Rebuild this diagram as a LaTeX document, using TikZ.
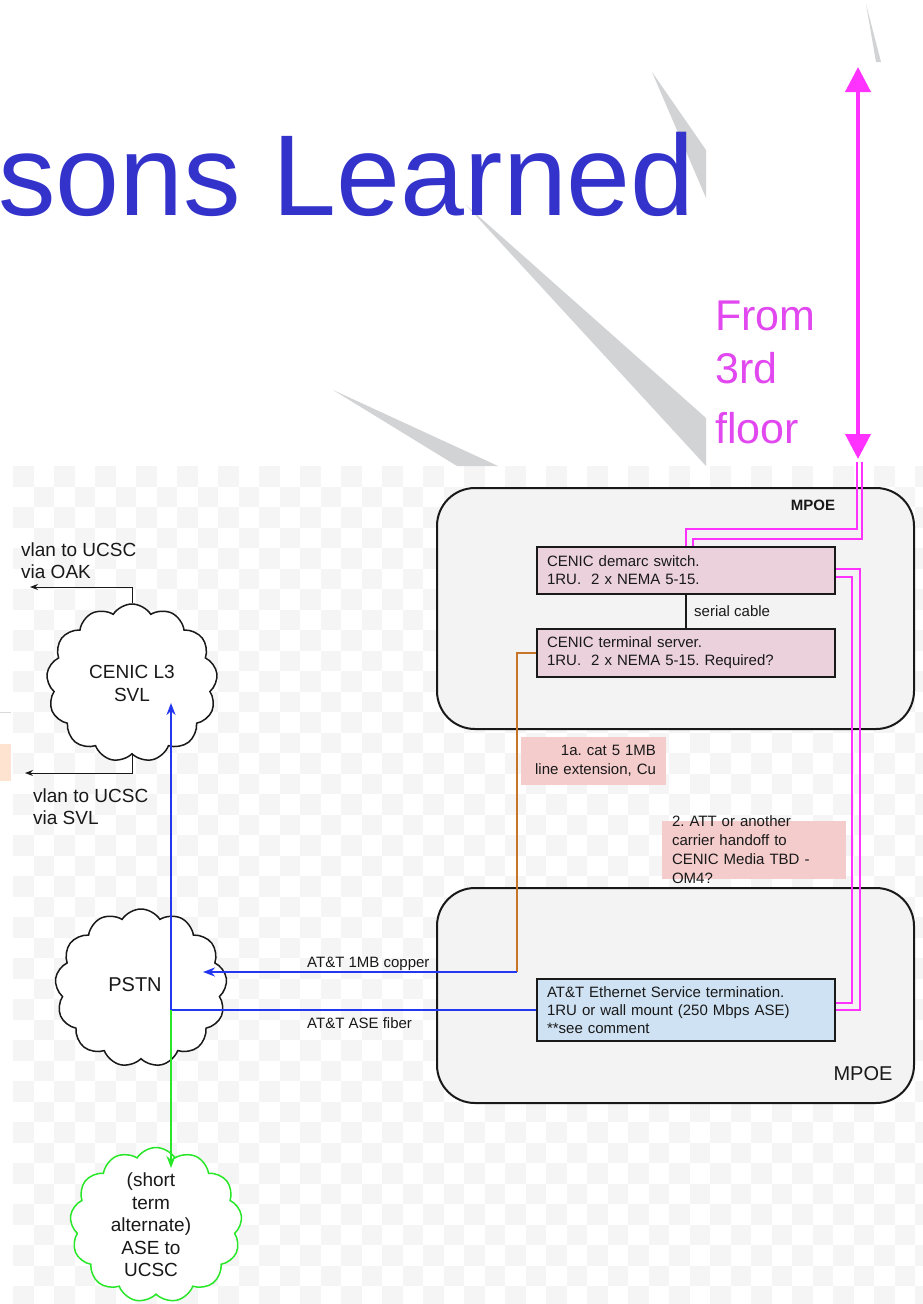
\documentclass[tikz,border=0pt]{standalone}
\usepackage{fontspec}
\setmainfont{Liberation Sans}
\usetikzlibrary{shapes.symbols,arrows.meta,calc}
\definecolor{titleblue}{RGB}{51,51,204}
\definecolor{mag}{RGB}{255,50,255}
\definecolor{magtext}{RGB}{226,72,240}
\definecolor{shard}{RGB}{210,211,213}
\definecolor{checker}{RGB}{245,245,245}
\definecolor{mpoefill}{RGB}{243,243,243}
\definecolor{pinkbox}{RGB}{234,209,220}
\definecolor{bluebox}{RGB}{207,226,243}
\definecolor{notefill}{RGB}{244,204,204}
\definecolor{wire}{RGB}{35,55,240}
\definecolor{copper}{RGB}{200,117,40}
\definecolor{grn}{RGB}{40,230,40}
\definecolor{peach}{RGB}{253,227,208}
\definecolor{ink}{RGB}{25,25,25}
\frenchspacing
\begin{document}
\frenchspacing
\begin{tikzpicture}[x=1pt,y=-1pt,
  every node/.style={inner sep=0pt, text=ink},
  boxsty/.style={draw=ink, line width=2pt, inner xsep=10pt, inner ysep=0pt,
    align=left, text width=278pt, font=\fontsize{15}{18}\selectfont},
  mpoesty/.style={draw=ink, line width=2pt, fill=mpoefill, rounded corners=38pt},
  notesty/.style={fill=notefill, font=\fontsize{15}{19}\selectfont},
  cloudsty/.style={cloud, cloud puffs=13, cloud puff arc=115, aspect=1.05,
    draw=ink, line width=1.5pt, fill=white},
  lbl/.style={font=\fontsize{15}{18}\selectfont},
  cloudtxt/.style={font=\fontsize{19}{23}\selectfont, align=center, text=ink},
  magline/.style={draw=mag, line width=2.2pt},
  bluewire/.style={draw=wire, line width=2.2pt},
  thinarrow/.style={draw=ink, line width=1pt, -{Stealth[length=8pt,width=6pt]}},
  wirearrow/.style={-{Stealth[length=12pt,width=9pt]}}
]
\useasboundingbox (0,0) rectangle (923,1304);
\fill[white] (0,0) rectangle (923,1304);
% checkered background
\begin{scope}
\clip (13,466) rectangle (923,1304);
\foreach \r in {0,...,20} {
  \foreach \c in {0,...,22} {
    \fill[checker] (13+41*\c,466+41*\r) rectangle ++(20.5,20.5);
    \fill[checker] (33.5+41*\c,486.5+41*\r) rectangle ++(20.5,20.5);
  }
}
\end{scope}
% side remnants
\fill[peach] (0,744) rectangle (11,781);
\draw[black!15, line width=0.8pt] (0,712) -- (11,712);
% decorative shards
\fill[shard] (866,4) -- (876,62) -- (881,62) -- cycle;
\fill[shard] (652,72) -- (706,150) -- (706,198) -- cycle;
\fill[shard] (466,205) -- (706,418) -- (706,466) -- cycle;
\fill[shard] (333,390) -- (498,466) -- (457,466) -- cycle;
% title
\node[anchor=base west, font=\fontsize{115}{115}\selectfont, text=titleblue] (title) at (-2,215) {sons Learned};
% from 3rd floor
\coordinate (ftop) at (858,67);
\coordinate (fbot) at (858,459);
\draw[mag, line width=4pt, {Triangle[width=25pt,length=25pt]}-{Triangle[width=25pt,length=25pt]}] (ftop) -- (fbot);
\node[anchor=base west, text=magtext, font=\fontsize{43}{43}\selectfont] (from1) at (715,330) {From};
\node[anchor=base west, text=magtext, font=\fontsize{43}{43}\selectfont] (from2) at (715,383) {3rd};
\node[anchor=base west, text=magtext, font=\fontsize{43}{43}\selectfont] (from3) at (715,443) {floor};
% MPOE containers
\node[mpoesty, minimum width=477pt, minimum height=241pt] (mpoeA) at (675.5,608.5) {};
\node[anchor=base, font=\bfseries\fontsize{15}{15}\selectfont] (mpoeAl) at (813,510.5) {MPOE};
\node[mpoesty, minimum width=477pt, minimum height=215pt] (mpoeB) at (675.5,995.5) {};
\node[anchor=base, font=\fontsize{20}{20}\selectfont] (mpoeBl) at (863,1080) {MPOE};
% devices
\node[boxsty, fill=pinkbox, minimum height=47pt] (demarc) at (686,570.5)
  {CENIC demarc switch.\\1RU.\ \ 2 x NEMA 5-15.};
\node[boxsty, fill=pinkbox, minimum height=48pt] (term) at (686,653)
  {CENIC terminal server.\\1RU.\ \ 2 x NEMA 5-15. Required?};
\node[boxsty, fill=bluebox, minimum height=62pt] (att) at (686,1010)
  {AT\&T Ethernet Service termination.\\1RU or wall mount (250 Mbps ASE)\\\relax **see comment};
% notes
\node[notesty, minimum width=145pt, minimum height=48pt, text width=125pt, align=right, inner xsep=10pt] (note1) at (593.5,761)
  {1a. cat 5 1MB\\line extension, Cu};
\node[notesty, minimum width=184pt, text width=164pt, align=left, inner xsep=10pt, inner ysep=-5pt] (note2) at (754,849.5)
  {2. ATT or another\\carrier handoff to\\CENIC Media TBD -\\OM4?};
% serial cable
\draw[draw=ink, line width=1.8pt] (demarc.south) -- (term.north);
\node[lbl, anchor=west] (serial) at (694,611) {serial cable};
% clouds
\node[cloudsty, minimum width=171pt, minimum height=158pt,
  label={[cloudtxt]center:CENIC L3\\SVL}] (cenic) at (132,683) {};
\node[cloudsty, minimum width=172pt, minimum height=158pt,
  label={[cloudtxt, font=\fontsize{20}{24}\selectfont, xshift=-6pt, yshift=3pt]center:PSTN}] (pstn) at (141,988) {};
\node[cloudsty, draw=grn, minimum width=172pt, minimum height=155pt,
  label={[cloudtxt, font=\fontsize{19}{22.5}\selectfont, xshift=-5pt]center:(short\\term\\alternate)\\ASE to\\UCSC}] (green) at (156,1225) {};
% vlan arrows
\coordinate (oak) at (30,587);
\coordinate (svl) at (25,773);
\draw[thinarrow] (cenic.north) |- (oak);
\draw[thinarrow] (cenic.south) |- (svl);
\node[anchor=base west, font=\fontsize{19}{19}\selectfont] (oakl1) at (21,556) {vlan to UCSC};
\node[anchor=base west, font=\fontsize{19}{19}\selectfont] (oakl2) at (21,578) {via OAK};
\node[anchor=base west, font=\fontsize{19}{19}\selectfont] (svll1) at (33,802) {vlan to UCSC};
\node[anchor=base west, font=\fontsize{19}{19}\selectfont] (svll2) at (33,824) {via SVL};
% magenta fibre runs
\draw[magline] (857,462) |- (686,529) -- (demarc.north);
\draw[magline] (862,462) |- (693,539) -- ($(demarc.north)+(7,0)$);
\draw[magline] ($(demarc.east)+(0,-1.5)$) -| (860,1010) -- (att.east);
\draw[magline] ($(demarc.east)+(0,6.5)$) -| (852,1003) -- ($(att.east)+(0,-7)$);
% copper run
\coordinate (cubend) at (517,972);
\coordinate (pstnin) at (203,972);
\draw[draw=copper, line width=1.8pt] (term.west) -| (cubend);
\draw[bluewire, wirearrow] (cubend) -- (pstnin);
\node[lbl, anchor=base west] (cul) at (307,967) {AT\&T 1MB copper};
% fibre run
\coordinate (junc) at (171,1010);
\coordinate (svlin) at (171,703);
\coordinate (greenin) at (171,1168);
\draw[bluewire] (att.west) -- (junc);
\draw[bluewire, wirearrow] (junc) -- (svlin);
\draw[draw=grn, line width=2.2pt, wirearrow] (junc) -- (greenin);
\node[lbl, anchor=base west] (fil) at (307,1028) {AT\&T ASE fiber};
\end{tikzpicture}
\end{document}
